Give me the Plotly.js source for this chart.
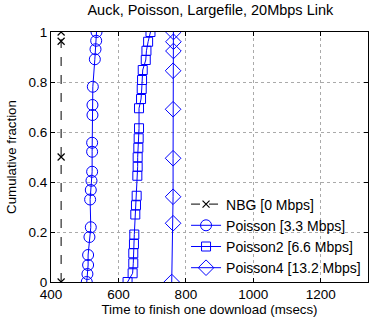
<!DOCTYPE html>
<html>
<head>
<meta charset="utf-8">
<script src="https://cdn.plot.ly/plotly-3.0.1.min.js"></script>
<style>html,body{margin:0;padding:0;background:#fff;}#chart{width:369px;height:317px;}</style>
</head>
<body>
<div id="chart"></div>
<script>
var nbgX = [430, 430, 430, 430];
var nbgY = [0, 0.5, 0.963, 1];

var poissonX = [506, 508, 510, 510, 514, 518, 516, 518, 520, 522, 522, 522, 523, 523, 524, 530, 532, 534, 535];
var poissonY = [0, 0.032, 0.068, 0.108, 0.18, 0.219, 0.33, 0.368, 0.405, 0.441, 0.521, 0.557, 0.668, 0.708, 0.781, 0.891, 0.931, 0.965, 1];

var poisson2X = [627, 642, 644, 644, 646, 647, 650, 652, 654, 656, 657, 657, 659, 660, 661, 661, 667, 669, 670, 672, 681, 683, 688, 695];
var poisson2Y = [0, 0.035, 0.075, 0.115, 0.152, 0.19, 0.27, 0.307, 0.345, 0.425, 0.461, 0.499, 0.537, 0.575, 0.615, 0.695, 0.732, 0.772, 0.808, 0.848, 0.888, 0.925, 0.961, 1];

var poisson4X = [758, 762, 762, 762, 762, 762, 763, 763, 763];
var poisson4Y = [0, 0.235, 0.341, 0.495, 0.691, 0.845, 0.924, 0.961, 1];

var names = ['NBG [0 Mbps]', 'Poisson [3.3 Mbps]', 'Poisson2 [6.6 Mbps]', 'Poisson4 [13.2 Mbps]'];
var xTicks = [400, 600, 800, 1000, 1200];
var yTicks = [0, 0.2, 0.4, 0.6, 0.8, 1];
var yTickText = ['0', '0.2', '0.4', '0.6', '0.8', '1'];

var blue = '#0000ff';
var traces = [
  {x: nbgX, y: nbgY, name: names[0], mode: 'lines+markers',
   line: {color: '#000', width: 1, dash: 'dash'},
   marker: {symbol: 'x-thin-open', size: 7, color: '#000', line: {width: 1.2, color: '#000'}}},
  {x: poissonX, y: poissonY, name: names[1], mode: 'lines+markers',
   line: {color: blue, width: 1},
   marker: {symbol: 'circle-open', size: 11, color: blue, line: {width: 1, color: blue}}},
  {x: poisson2X, y: poisson2Y, name: names[2], mode: 'lines+markers',
   line: {color: blue, width: 1},
   marker: {symbol: 'square-open', size: 9, color: blue, line: {width: 1, color: blue}}},
  {x: poisson4X, y: poisson4Y, name: names[3], mode: 'lines+markers',
   line: {color: blue, width: 1},
   marker: {symbol: 'diamond-open', size: 12, color: blue, line: {width: 1, color: blue}}}
];

var layout = {
  width: 369, height: 317,
  margin: {l: 51, r: 1, t: 32, b: 35},
  paper_bgcolor: '#fff', plot_bgcolor: '#fff',
  font: {family: 'Liberation Sans, Arial, sans-serif', size: 13, color: '#000'},
  title: {text: 'Auck, Poisson, Largefile, 20Mbps Link', font: {size: 14.5}, x: 0.57, xanchor: 'center', y: 0.985, yanchor: 'top'},
  xaxis: {
    range: [400, 1340], tickvals: xTicks, ticktext: xTicks.map(String),
    ticks: 'inside', ticklen: 4, tickcolor: '#000', showline: true, linecolor: '#000', linewidth: 1, mirror: 'ticks',
    showgrid: true, gridcolor: '#aaa', griddash: 'dot', gridwidth: 1, zeroline: false,
    title: {text: 'Time to finish one download (msecs)', font: {size: 13.3}, standoff: 0},
    tickfont: {size: 13.5}
  },
  yaxis: {
    range: [0, 1], tickvals: yTicks, ticktext: yTickText,
    ticks: 'inside', ticklen: 4, tickcolor: '#000', showline: true, linecolor: '#000', linewidth: 1, mirror: 'ticks',
    showgrid: true, gridcolor: '#aaa', griddash: 'dot', gridwidth: 1, zeroline: false,
    title: {text: 'Cumulative fraction', font: {size: 13.3}, standoff: 8},
    tickfont: {size: 13.5}
  },
  showlegend: true,
  legend: {x: 0.426, y: -0.006, xanchor: 'left', yanchor: 'bottom', bgcolor: 'rgba(255,255,255,0)', borderwidth: 0,
    font: {size: 14}, tracegroupgap: 0, itemwidth: 30}
};

Plotly.newPlot('chart', traces, layout, {displayModeBar: false, staticPlot: true});
</script>
</body>
</html>
